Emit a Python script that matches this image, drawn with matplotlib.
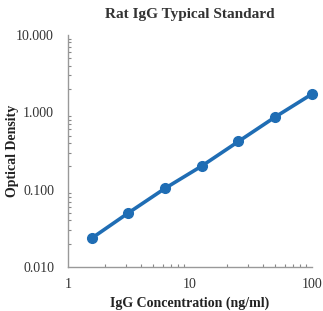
import matplotlib
matplotlib.use("Agg")
import matplotlib.pyplot as plt
from matplotlib.ticker import LogLocator, FixedLocator, NullFormatter

# standard curve data
conc = [1.5625, 3.125, 6.25, 12.5, 25, 50, 100]
od = [0.0235, 0.050, 0.104, 0.202, 0.420, 0.87, 1.72]
x_ticks = [1, 10, 100]
x_tick_labels = ["1", "10", "100"]
y_ticks = [0.01, 0.1, 1, 10]
y_tick_labels = ["0.010", "0.100", "1.000", "10.000"]

plt.rcParams['font.family'] = ['Liberation Serif', 'DejaVu Serif']

fig = plt.figure(figsize=(3.23, 3.11), dpi=100)
ax = fig.add_axes([0.2105, 0.1415, 0.755, 0.746])

ax.plot(conc, od, color='#1f6db4', lw=2.6, marker='o', ms=7,
        solid_capstyle='round', clip_on=False)

ax.set_xscale('log')
ax.set_yscale('log')
ax.set_xlim(1, 100)
ax.set_ylim(0.01, 10)

ax.xaxis.set_major_locator(FixedLocator(x_ticks))
ax.set_xticklabels(x_tick_labels)
ax.yaxis.set_major_locator(FixedLocator(y_ticks))
ax.set_yticklabels(y_tick_labels)
ax.xaxis.set_minor_locator(LogLocator(base=10, subs=range(2, 10)))
ax.yaxis.set_minor_locator(LogLocator(base=10, subs=range(2, 10)))
ax.xaxis.set_minor_formatter(NullFormatter())
ax.yaxis.set_minor_formatter(NullFormatter())

ax.tick_params(which='major', length=0, labelsize=10, colors='#333333')
ax.tick_params(axis='y', which='major', pad=10)
ax.tick_params(axis='x', which='major', pad=8)
ax.tick_params(which='minor', direction='in', length=2.5, width=0.8, color='#888888')

for s in ['top', 'right']:
    ax.spines[s].set_visible(False)
for s in ['left', 'bottom']:
    ax.spines[s].set_color('#999999')
    ax.spines[s].set_linewidth(1.0)

ax.set_title("Rat IgG Typical Standard", fontsize=11, fontweight='bold', color='#333333', pad=12)
ax.set_xlabel("IgG Concentration (ng/ml)", fontsize=10, fontweight='bold', color='#222222', labelpad=4)
ax.set_ylabel("Optical Density", fontsize=10, fontweight='bold', color='#222222', labelpad=-2)

fig.savefig("out.png", dpi=100)
